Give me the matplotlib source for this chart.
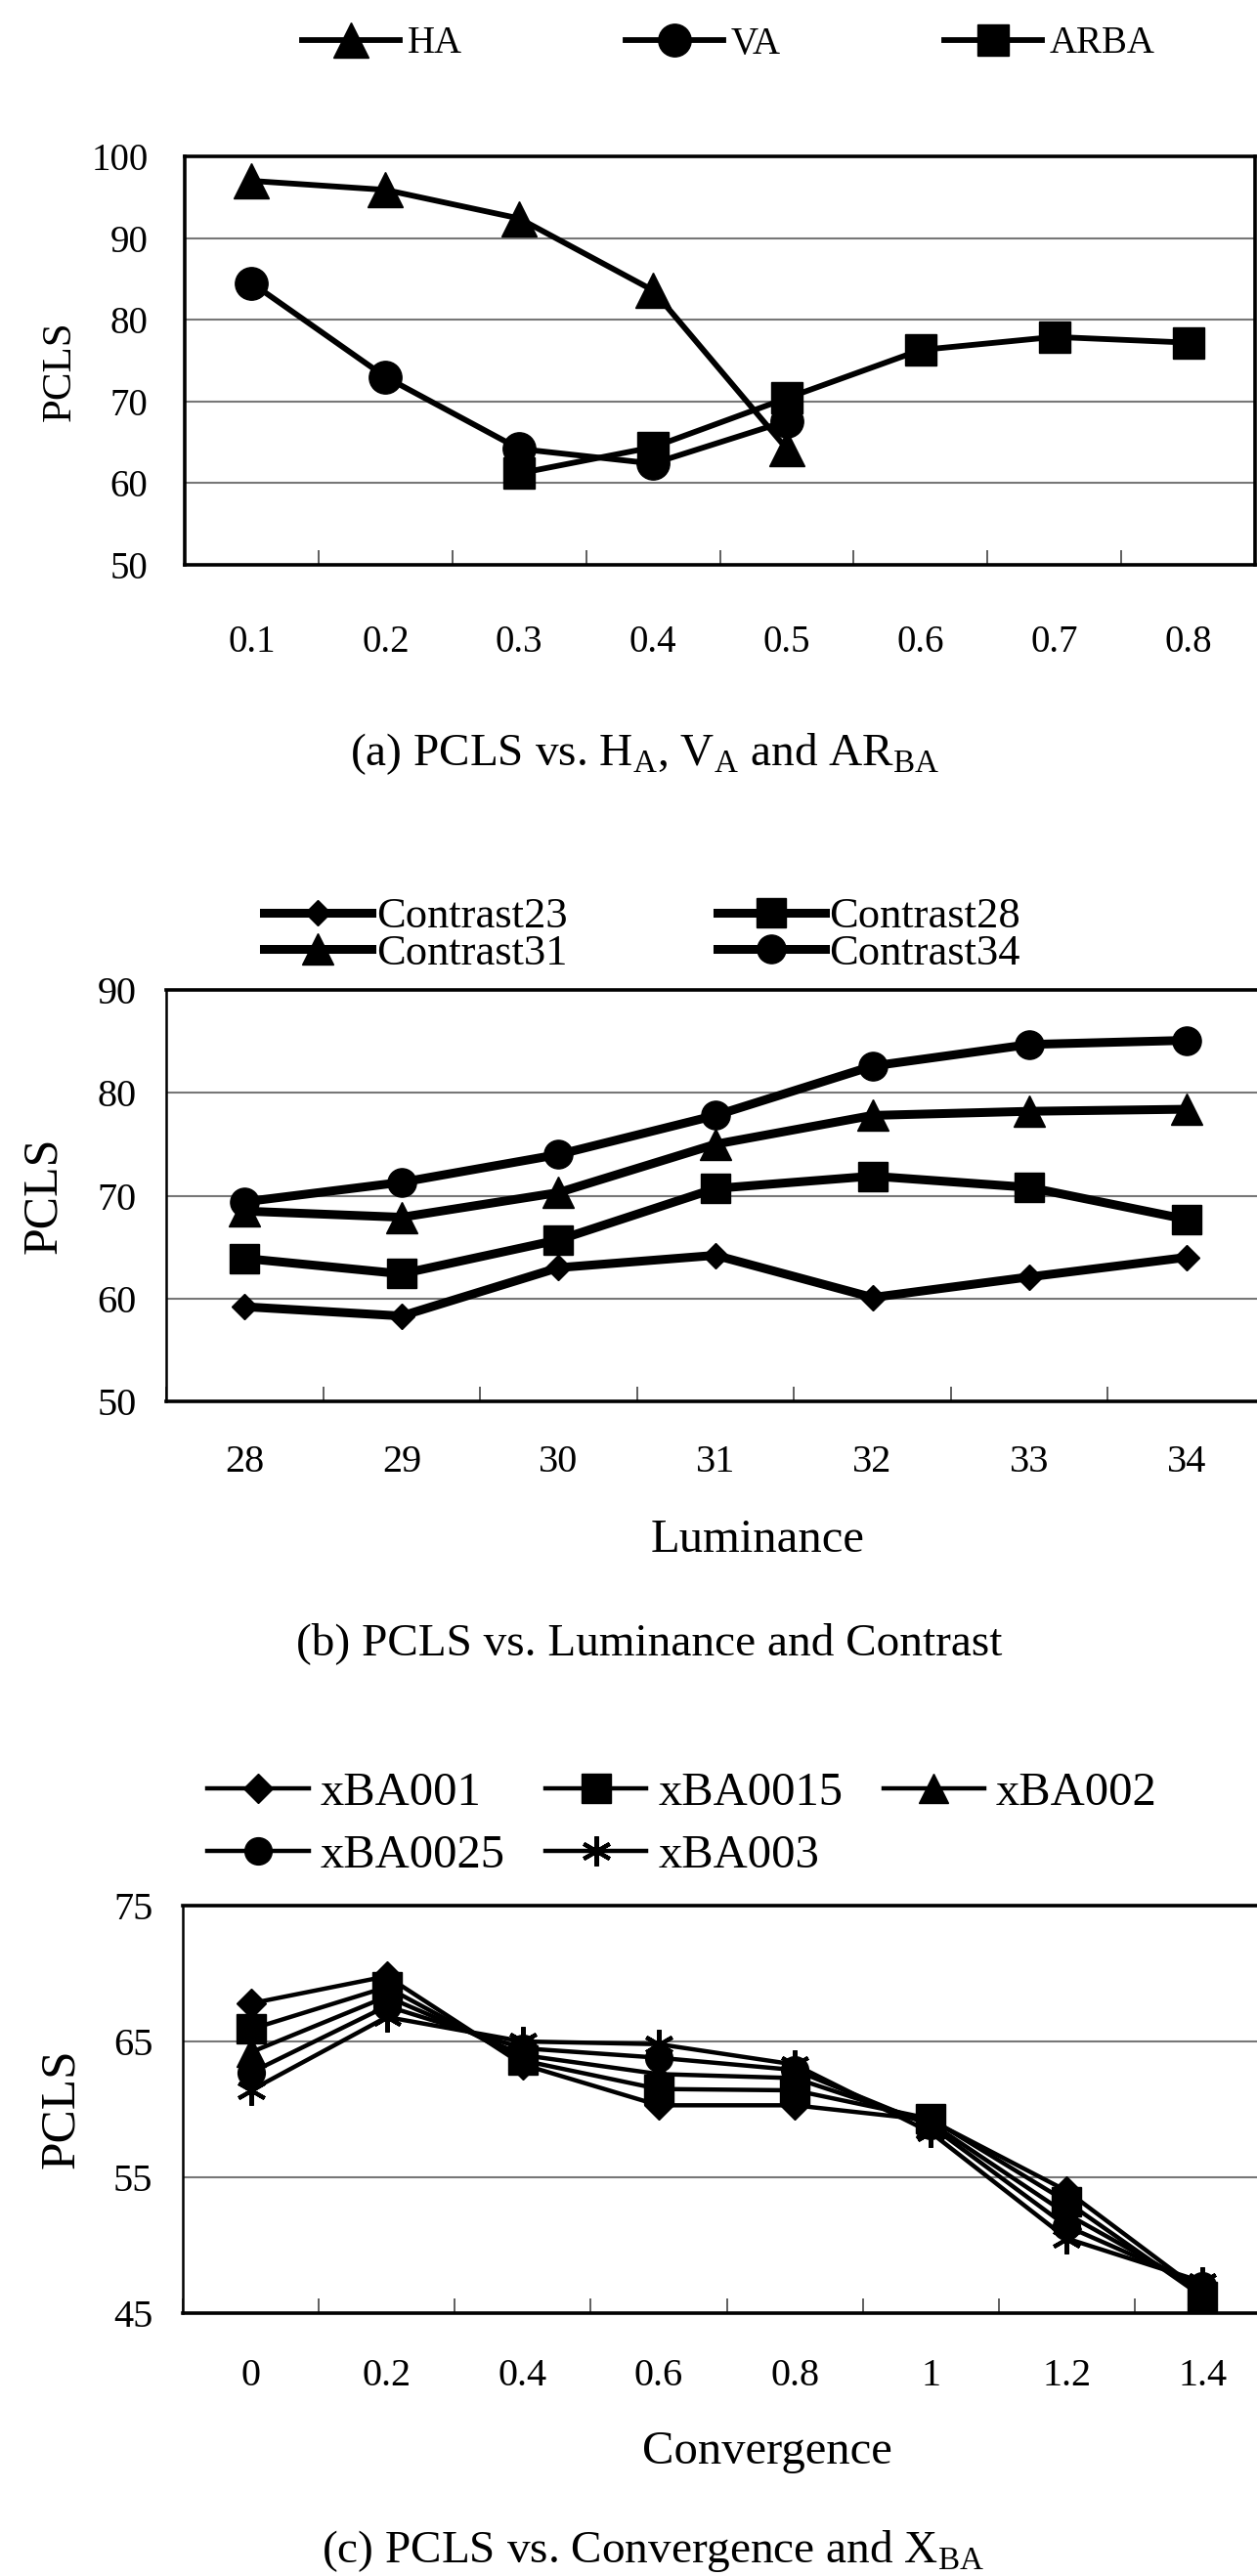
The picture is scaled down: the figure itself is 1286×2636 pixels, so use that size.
import matplotlib.pyplot as plt
import numpy as np

plt.rcParams['font.family'] = ['Liberation Serif', 'DejaVu Serif']
plt.rcParams['mathtext.fontset'] = 'custom'
plt.rcParams['mathtext.rm'] = 'Liberation Serif'

# (a) PCLS vs. H_A, V_A and AR_BA
ratio_labels = ['0.1', '0.2', '0.3', '0.4', '0.5', '0.6', '0.7', '0.8']
ha_values = [97.0, 95.9, 92.4, 83.6, 64.2]          # 0.1 .. 0.5
va_values = [84.5, 73.0, 64.2, 62.4, 67.6]          # 0.1 .. 0.5
arba_values = [61.2, 64.4, 70.4, 76.3, 77.9, 77.2]  # 0.3 .. 0.8

# (b) PCLS vs. Luminance and Contrast
lum_labels = ['28', '29', '30', '31', '32', '33', '34']
contrast23 = [59.2, 58.3, 63.0, 64.2, 60.1, 62.1, 64.0]
contrast28 = [63.9, 62.4, 65.7, 70.7, 71.9, 70.8, 67.7]
contrast31 = [68.5, 67.9, 70.3, 75.0, 77.8, 78.2, 78.4]
contrast34 = [69.4, 71.3, 74.0, 77.8, 82.6, 84.7, 85.1]

# (c) PCLS vs. Convergence and X_BA
conv_labels = ['0', '0.2', '0.4', '0.6', '0.8', '1', '1.2', '1.4']
xba001 = [67.8, 69.8, 63.3, 60.3, 60.3, 59.2, 54.0, 46.5]
xba0015 = [65.9, 69.0, 63.6, 61.5, 61.4, 59.3, 53.2, 46.2]
xba002 = [64.2, 68.3, 64.0, 62.6, 62.3, 59.0, 52.3, 46.7]
xba0025 = [62.7, 67.6, 64.5, 63.8, 62.9, 58.8, 51.4, 47.0]
xba003 = [61.4, 66.8, 65.0, 64.8, 63.3, 58.3, 50.5, 47.3]

W, H = 1286, 2636
fig = plt.figure(figsize=(W / 100, H / 100), dpi=100)


def axes_px(left, top, right, bottom):
    return fig.add_axes([left / W, 1 - bottom / H, (right - left) / W, (bottom - top) / H])


def style(ax, labels, ylim, yticks, xpad, ypad, fs):
    n = len(labels)
    ax.set_xlim(-0.5, n - 0.5)
    ax.set_ylim(*ylim)
    ax.set_xticks(np.arange(n))
    ax.set_xticklabels(labels, fontsize=fs)
    ax.set_xticks(np.arange(n + 1) - 0.5, minor=True)
    ax.tick_params(axis='x', which='major', length=0, pad=xpad)
    ax.tick_params(axis='x', which='minor', direction='in', length=11, width=1.2, color='#444')
    ax.set_yticks(yticks)
    ax.tick_params(axis='y', length=0, pad=ypad, labelsize=fs)
    ax.yaxis.grid(True, color='#777', lw=1.5)
    ax.set_axisbelow(True)
    for s in ax.spines.values():
        s.set_linewidth(2.6)
        s.set_color('black')


def ftext(x, y, s, **kw):
    fig.text(x / W, 1 - y / H, s, **kw)


# ---- panel (a)
ax1 = axes_px(189, 160, 1284, 578)
x1 = np.arange(len(ratio_labels))
l_ha, = ax1.plot(x1[:len(ha_values)], ha_values, color='black', lw=4.2, marker='^', ms=26, label='HA')
l_va, = ax1.plot(x1[:len(va_values)], va_values, color='black', lw=4.2, marker='o', ms=24, label='VA')
l_ar, = ax1.plot(x1[-len(arba_values):], arba_values, color='black', lw=4.2, marker='s', ms=23, label='ARBA')
style(ax1, ratio_labels, (50, 100), [50, 60, 70, 80, 90, 100], 44, 27, 28)
fig.legend([l_ha, l_va, l_ar], ['HA', 'VA', 'ARBA'], loc='center',
           bbox_to_anchor=(745 / W, 1 - 45 / H), ncol=3, frameon=False, fontsize=28,
           handlelength=2.57, handletextpad=0.2, columnspacing=4.3, borderpad=0, borderaxespad=0)
ftext(62, 380, 'PCLS', rotation=90, ha='center', va='center', fontsize=31)
ftext(660, 783, r'(a) PCLS vs. H$_\mathrm{A}$, V$_\mathrm{A}$ and AR$_\mathrm{BA}$',
      ha='center', va='baseline', fontsize=34)

# ---- panel (b)  (right edge of the box is cropped off in the original)
ax2 = axes_px(170, 1013, 1294, 1434)
x2 = np.arange(len(lum_labels))
b23, = ax2.plot(x2, contrast23, color='black', lw=6.5, marker='D', ms=13)
b28, = ax2.plot(x2, contrast28, color='black', lw=6.5, marker='s', ms=21)
b31, = ax2.plot(x2, contrast31, color='black', lw=6.5, marker='^', ms=23)
b34, = ax2.plot(x2, contrast34, color='black', lw=6.5, marker='o', ms=21)
style(ax2, lum_labels, (50, 90), [50, 60, 70, 80, 90], 32, 22, 29)
ax2.spines['right'].set_visible(False)
ax2.spines['left'].set_linewidth(1.8)
fig.legend([b23, b31, b28, b34], ['Contrast23', 'Contrast31', 'Contrast28', 'Contrast34'],
           loc='center', bbox_to_anchor=(657 / W, 1 - 957 / H), ncol=2, frameon=False,
           fontsize=32, handlelength=2.48, handletextpad=0.1, columnspacing=3.45,
           labelspacing=-0.05, borderpad=0, borderaxespad=0)
ftext(45, 1223, 'PCLS', rotation=90, ha='center', va='center', fontsize=36)
ftext(775, 1588, 'Luminance', ha='center', va='baseline', fontsize=35)
ftext(664, 1693, '(b) PCLS vs. Luminance and Contrast', ha='center', va='baseline', fontsize=34)

# ---- panel (c)
ax3 = axes_px(187, 1950, 1300, 2367)
x3 = np.arange(len(conv_labels))
c1, = ax3.plot(x3, xba001, color='black', lw=3.2, marker='D', ms=15)
c2, = ax3.plot(x3, xba0015, color='black', lw=3.2, marker='s', ms=21)
c3, = ax3.plot(x3, xba002, color='black', lw=3.2, marker='^', ms=21)
c4, = ax3.plot(x3, xba0025, color='black', lw=3.2, marker='o', ms=20)
c5, = ax3.plot(x3, xba003, color='black', lw=3.2, marker=(6, 2, 0), ms=22, mew=3)
style(ax3, conv_labels, (45, 75), [45, 55, 65, 75], 33, 22, 29)
ax3.spines['right'].set_visible(False)
ax3.spines['left'].set_linewidth(1.8)
fig.legend([c1, c4, c2, c5, c3], ['xBA001', 'xBA0025', 'xBA0015', 'xBA003', 'xBA002'],
           loc='center', bbox_to_anchor=(698 / W, 1 - 1867 / H), ncol=3, frameon=False,
           fontsize=35, handlelength=2.12, handletextpad=0.25, columnspacing=0.85,
           labelspacing=0.4, borderpad=0, borderaxespad=0)
ftext(63, 2158, 'PCLS', rotation=90, ha='center', va='center', fontsize=37)
ftext(785, 2521, 'Convergence', ha='center', va='baseline', fontsize=35)
ftext(668, 2622, r'(c) PCLS vs. Convergence and X$_\mathrm{BA}$', ha='center', va='baseline', fontsize=34)

fig.savefig('out.png', dpi=100)
